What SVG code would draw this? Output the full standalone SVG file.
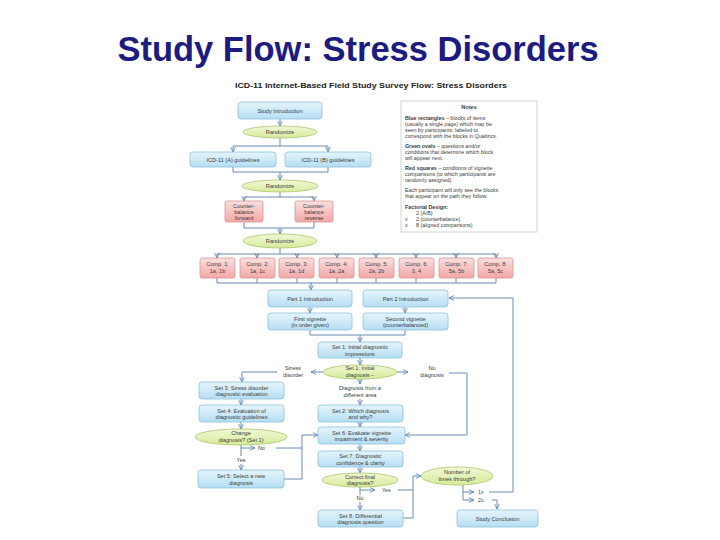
<svg xmlns="http://www.w3.org/2000/svg" width="720" height="540" viewBox="0 0 720 540">
<defs>
<linearGradient id="gB" x1="0" y1="0" x2="0" y2="1"><stop offset="0" stop-color="#e6f5fc"/><stop offset="1" stop-color="#b5def3"/></linearGradient>
<linearGradient id="gR" x1="0" y1="0" x2="0" y2="1"><stop offset="0" stop-color="#fbe0e0"/><stop offset="1" stop-color="#f3a7a7"/></linearGradient>
<linearGradient id="gG" x1="0" y1="0" x2="0" y2="1"><stop offset="0" stop-color="#f1f8d6"/><stop offset="1" stop-color="#d6eb9a"/></linearGradient>
<marker id="ar" viewBox="0 0 6 6" refX="5.5" refY="3" markerWidth="6" markerHeight="6" markerUnits="userSpaceOnUse" orient="auto"><path d="M0.5,0.6 L5.5,3 L0.5,5.4" fill="none" stroke="#5a7ea8" stroke-width="0.8"/></marker>
<style>
.b{fill:url(#gB);stroke:#8cc0dc;stroke-width:0.8}
.r{fill:url(#gR);stroke:#d69494;stroke-width:0.8}
.g{fill:url(#gG);stroke:#a9c46c;stroke-width:0.8}
.t{font-family:"Liberation Sans",Arial,sans-serif;font-size:5.6px;fill:#3a3a3a;text-anchor:middle}
.l{font-family:"Liberation Sans",Arial,sans-serif;font-size:5.3px;fill:#3a3a3a}
.c{fill:none;stroke:#5a7ea8;stroke-width:0.9}
.a{fill:none;stroke:#5a7ea8;stroke-width:0.9;marker-end:url(#ar)}
</style>
</defs>
<rect width="720" height="540" fill="#ffffff"/>
<text x="358" y="61" font-family="'Liberation Sans',Arial,sans-serif" font-size="34.5" font-weight="bold" fill="#1c1c80" text-anchor="middle">Study Flow: Stress Disorders</text>
<text x="371" y="88" font-family="'Liberation Sans',Arial,sans-serif" font-size="7.6" font-weight="bold" fill="#222" text-anchor="middle" textLength="272" lengthAdjust="spacingAndGlyphs">ICD-11 Internet-Based Field Study Survey Flow: Stress Disorders</text>

<g id="connectors">
<path class="a" d="M280,119 V126"/>
<path class="c" d="M280,138 V146 M233,146 H328"/>
<path class="a" d="M233,146 V152"/><path class="a" d="M328,146 V152"/>
<path class="c" d="M233,167 V172 H328 V167"/>
<path class="a" d="M280,172 V180"/>
<path class="c" d="M280,192 V197 M244,197 H314"/>
<path class="a" d="M244,197 V201"/><path class="a" d="M314,197 V201"/>
<path class="c" d="M244,222 V228 H314 V222"/>
<path class="a" d="M280,228 V234"/>
<path class="c" d="M280,248 V254 M217,254 H496"/>
<path class="a" d="M217,254 V258"/><path class="a" d="M257,254 V258"/><path class="a" d="M297,254 V258"/><path class="a" d="M337,254 V258"/>
<path class="a" d="M376,254 V258"/><path class="a" d="M416,254 V258"/><path class="a" d="M456,254 V258"/><path class="a" d="M496,254 V258"/>
<path class="c" d="M217,278 V283 H496 M257,278 V283 M297,278 V283 M337,278 V283 M376,278 V283 M416,278 V283 M456,278 V283 M496,278 V283"/>
<path class="a" d="M311,283 V290"/>
<path class="a" d="M310,307 V313"/><path class="a" d="M405,307 V313"/>
<path class="c" d="M310,330 V335 H405 V330"/>
<path class="a" d="M360,335 V342"/>
<path class="a" d="M360,358 V365"/>
<path class="a" d="M323,372 V372 H311"/>
<path class="c" d="M277,372 H242"/>
<path class="a" d="M242,372 V382"/>
<path class="a" d="M397,372 H408"/>
<path class="c" d="M449,373 H467 V435"/>
<path class="a" d="M467,435 H405"/>
<path class="a" d="M360,379 V384"/>
<path class="a" d="M360,399 V405"/>
<path class="a" d="M360,422 V427"/>
<path class="a" d="M241,399 V405"/>
<path class="a" d="M241,422 V429"/>
<path class="c" d="M241,445 V456"/>
<path class="a" d="M241,448 H255"/>
<path class="c" d="M276,448 H302 M284,479 H302 V435"/>
<path class="a" d="M302,435 H318"/>
<path class="a" d="M241,464 V470"/>
<path class="a" d="M360,444 V451"/>
<path class="a" d="M360,467 V473"/>
<path class="c" d="M360,487 V495"/>
<path class="a" d="M360,490 H375"/>
<path class="c" d="M398,490 H413 M403,518 H413 V476"/>
<path class="a" d="M413,476 H421"/>
<path class="a" d="M360,502 V510"/>
<path class="c" d="M463,485 V500"/>
<path class="a" d="M463,492 H474"/>
<path class="a" d="M463,500 H474"/>
<path class="c" d="M489,492 H513 V298"/>
<path class="a" d="M513,298 H449"/>
<path class="c" d="M492,500 H497"/>
<path class="a" d="M497,500 V509"/>
</g>

<g id="study-intro"><rect class="b" x="238" y="102" width="84" height="17" rx="3"/><text class="t" x="280" y="112.5">Study Introduction</text></g>
<g id="randomize-1"><ellipse class="g" cx="280" cy="132" rx="37" ry="6"/><text class="t" x="280" y="134">Randomize</text></g>
<g id="icd-a"><rect class="b" x="190" y="152" width="86" height="15" rx="3"/><text class="t" x="233" y="161.5">ICD-11 (A) guidelines</text></g>
<g id="icd-b"><rect class="b" x="285" y="152" width="86" height="15" rx="3"/><text class="t" x="328" y="161.5">ICD-11 (B) guidelines</text></g>
<g id="randomize-2"><ellipse class="g" cx="280" cy="186" rx="38" ry="6"/><text class="t" x="280" y="188">Randomize</text></g>
<g id="cb-forward"><rect class="r" x="225" y="201" width="38" height="21" rx="2"/><text class="t" x="244" y="207.5">Counter-</text><text class="t" x="244" y="213.5">balance</text><text class="t" x="244" y="219.5">forward</text></g>
<g id="cb-reverse"><rect class="r" x="295" y="201" width="38" height="21" rx="2"/><text class="t" x="314" y="207.5">Counter-</text><text class="t" x="314" y="213.5">balance</text><text class="t" x="314" y="219.5">reverse</text></g>
<g id="randomize-3"><ellipse class="g" cx="280" cy="241" rx="37" ry="7"/><text class="t" x="280" y="243">Randomize</text></g>

<g id="comp-1"><rect class="r" x="200" y="258" width="35" height="20" rx="2"/><text class="t" x="217.5" y="266">Comp. 1:</text><text class="t" x="217.5" y="273">1a, 1b</text></g>
<g id="comp-2"><rect class="r" x="240" y="258" width="35" height="20" rx="2"/><text class="t" x="257.5" y="266">Comp. 2:</text><text class="t" x="257.5" y="273">1a, 1c</text></g>
<g id="comp-3"><rect class="r" x="279" y="258" width="35" height="20" rx="2"/><text class="t" x="296.5" y="266">Comp. 3:</text><text class="t" x="296.5" y="273">1a, 1d</text></g>
<g id="comp-4"><rect class="r" x="319" y="258" width="35" height="20" rx="2"/><text class="t" x="336.5" y="266">Comp. 4:</text><text class="t" x="336.5" y="273">1a, 2a</text></g>
<g id="comp-5"><rect class="r" x="359" y="258" width="35" height="20" rx="2"/><text class="t" x="376.5" y="266">Comp. 5:</text><text class="t" x="376.5" y="273">2a, 2b</text></g>
<g id="comp-6"><rect class="r" x="399" y="258" width="35" height="20" rx="2"/><text class="t" x="416.5" y="266">Comp. 6:</text><text class="t" x="416.5" y="273">3, 4</text></g>
<g id="comp-7"><rect class="r" x="439" y="258" width="35" height="20" rx="2"/><text class="t" x="456.5" y="266">Comp. 7:</text><text class="t" x="456.5" y="273">5a, 5b</text></g>
<g id="comp-8"><rect class="r" x="478" y="258" width="35" height="20" rx="2"/><text class="t" x="495.5" y="266">Comp. 8:</text><text class="t" x="495.5" y="273">5a, 5c</text></g>

<g id="part1"><rect class="b" x="268" y="290" width="84" height="17" rx="3"/><text class="t" x="310" y="300.5">Part 1 Introduction</text></g>
<g id="part2"><rect class="b" x="363" y="290" width="85" height="17" rx="3"/><text class="t" x="405.5" y="300.5">Part 2 Introduction</text></g>
<g id="vig1"><rect class="b" x="268" y="313" width="84" height="17" rx="3"/><text class="t" x="310" y="320.5">First vignette</text><text class="t" x="310" y="327">(in order given)</text></g>
<g id="vig2"><rect class="b" x="363" y="313" width="85" height="17" rx="3"/><text class="t" x="405.5" y="320.5">Second vignette</text><text class="t" x="405.5" y="327">(counterbalanced)</text></g>

<g id="set1"><rect class="b" x="318" y="342" width="84" height="16" rx="3"/><text class="t" x="360" y="349">Set 1: Initial diagnostic</text><text class="t" x="360" y="355.5">impressions</text></g>
<g id="set1-dx"><ellipse class="g" cx="360" cy="372" rx="37" ry="7"/><text class="t" x="360" y="370">Set 1: Initial</text><text class="t" x="360" y="376.5">diagnosis –</text></g>
<g id="lbl-stress"><text class="t" x="293" y="370">Stress</text><text class="t" x="293" y="376.5">disorder</text></g>
<g id="lbl-nodx"><text class="t" x="432" y="370">No</text><text class="t" x="432" y="376.5">diagnosis</text></g>
<g id="lbl-other"><text class="t" x="360" y="390">Diagnosis from a</text><text class="t" x="360" y="396.5">different area</text></g>

<g id="set3"><rect class="b" x="199" y="382" width="85" height="17" rx="3"/><text class="t" x="241.5" y="389.5">Set 3: Stress disorder</text><text class="t" x="241.5" y="396">diagnostic evaluation</text></g>
<g id="set4"><rect class="b" x="199" y="405" width="85" height="17" rx="3"/><text class="t" x="241.5" y="412.5">Set 4: Evaluation of</text><text class="t" x="241.5" y="419">diagnostic guidelines</text></g>
<g id="change"><ellipse class="g" cx="241" cy="437" rx="46" ry="8"/><text class="t" x="241" y="435">Change</text><text class="t" x="241" y="441.5">diagnosis? (Set 1)</text></g>
<g id="lbl-no1"><text class="l" x="258" y="450">No</text></g>
<g id="lbl-yes1"><text class="t" x="241" y="462">Yes</text></g>
<g id="set5"><rect class="b" x="198" y="470" width="86" height="18" rx="3"/><text class="t" x="241" y="477.5">Set 5: Select a new</text><text class="t" x="241" y="484.5">diagnosis</text></g>

<g id="set2"><rect class="b" x="318" y="405" width="85" height="17" rx="3"/><text class="t" x="360.5" y="412.5">Set 2: Which diagnosis</text><text class="t" x="360.5" y="419">and why?</text></g>
<g id="set6"><rect class="b" x="318" y="427" width="87" height="17" rx="3"/><text class="t" x="361.5" y="434.5">Set 6: Evaluate vignette</text><text class="t" x="361.5" y="441">impairment &amp; severity</text></g>
<g id="set7"><rect class="b" x="318" y="451" width="85" height="16" rx="3"/><text class="t" x="360.5" y="458">Set 7: Diagnostic</text><text class="t" x="360.5" y="464.5">confidence &amp; clarity</text></g>
<g id="correct"><ellipse class="g" cx="360" cy="480" rx="38" ry="7"/><text class="t" x="360" y="478.5">Correct final</text><text class="t" x="360" y="485">diagnosis?</text></g>
<g id="lbl-yes2"><text class="l" x="382" y="492">Yes</text></g>
<g id="lbl-no2"><text class="t" x="360" y="500">No</text></g>
<g id="set8"><rect class="b" x="318" y="510" width="85" height="17" rx="3"/><text class="t" x="360.5" y="517.5">Set 8: Differential</text><text class="t" x="360.5" y="524">diagnosis question</text></g>

<g id="times"><ellipse class="g" cx="457" cy="476" rx="36" ry="9"/><text class="t" x="457" y="474">Number of</text><text class="t" x="457" y="480.5">times through?</text></g>
<g id="lbl-1x"><text class="l" x="478" y="494">1x</text></g>
<g id="lbl-2x"><text class="l" x="478" y="502">2x</text></g>
<g id="conclusion"><rect class="b" x="457" y="510" width="81" height="17" rx="3"/><text class="t" x="497.5" y="520.5">Study Conclusion</text></g>

<g id="notes">
<rect x="401" y="101" width="136" height="131" fill="#ffffff" stroke="#c8c8c8" stroke-width="0.8"/>
<text class="t" x="469" y="109" font-weight="bold">Notes</text>
<text class="l" x="405" y="120"><tspan font-weight="bold">Blue rectangles</tspan> – blocks of items</text>
<text class="l" x="405" y="126">(usually a single page) which may be</text>
<text class="l" x="405" y="132">seen by participants; labeled to</text>
<text class="l" x="405" y="138">correspond with the blocks in Qualtrics.</text>
<text class="l" x="405" y="148"><tspan font-weight="bold">Green ovals</tspan> – questions and/or</text>
<text class="l" x="405" y="154">conditions that determine which block</text>
<text class="l" x="405" y="160">will appear next.</text>
<text class="l" x="405" y="170"><tspan font-weight="bold">Red squares</tspan> – conditions of vignette</text>
<text class="l" x="405" y="176">comparisons (to which participants are</text>
<text class="l" x="405" y="182">randomly assigned)</text>
<text class="l" x="405" y="192">Each participant will only see the blocks</text>
<text class="l" x="405" y="198">that appear on the path they follow.</text>
<text class="l" x="405" y="209" font-weight="bold">Factorial Design:</text>
<text class="l" x="416" y="215">2 (A/B)</text>
<text class="l" x="405" y="221">x</text><text class="l" x="416" y="221">2 (counterbalance)</text>
<text class="l" x="405" y="227">x</text><text class="l" x="416" y="227">8 (aligned comparisons)</text>
</g>
</svg>
